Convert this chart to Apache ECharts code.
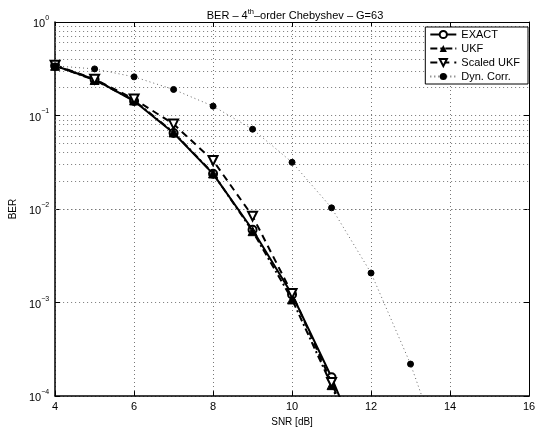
<!DOCTYPE html>
<html>
<head>
<meta charset="utf-8">
<script src="https://cdn.jsdelivr.net/npm/echarts@6/dist/echarts.min.js"></script>
<style>html,body{margin:0;padding:0;background:#fff;}#c{width:541px;height:432px;}</style>
</head>
<body>
<div id="c"></div>
<script>
const snr = [4, 5, 6, 7, 8, 9, 10, 11, 12];
const snrDyn = [4, 5, 6, 7, 8, 9, 10, 11, 12, 13, 14];
const berExact = [0.34, 0.243, 0.143, 0.065, 0.0238, 0.006, 0.00122, 0.000159, 0.000015];
const berUKF = [0.34, 0.24, 0.145, 0.066, 0.024, 0.0058, 0.00108, 0.000131, 0.000012];
const berScaled = [0.345, 0.245, 0.15, 0.081, 0.033, 0.0084, 0.00125, 0.00014, 0.000013];
const berDyn = [0.34, 0.315, 0.259, 0.19, 0.126, 0.0714, 0.0316, 0.0103, 0.00207, 0.00022, 0.000014];
const xTicks = [4, 6, 8, 10, 12, 14, 16];
const minorMultipliers = [2, 3, 4, 5, 6, 7, 8, 9];

const minorGrid = [];
for (let d = -4; d < 0; d++) {
  minorMultipliers.forEach(m => minorGrid.push({ yAxis: m * Math.pow(10, d) }));
}
const pairs = (xs, ys) => ys.map((v, i) => [xs[i], v]);

const FONT = 'Liberation Sans';
const chart = echarts.init(document.getElementById('c'), null, { renderer: 'canvas' });
const gridStyle = { color: '#777', type: [1, 3], width: 1 };

chart.setOption({
  animation: false,
  backgroundColor: '#fff',
  textStyle: { fontFamily: FONT },
  title: {
    text: '{n|BER – 4}{s|th}{n|–order Chebyshev – G=63}',
    left: 290, top: 3, textAlign: 'center',
    textStyle: {
      fontWeight: 'normal',
      rich: {
        n: { fontFamily: FONT, fontSize: 11, fontWeight: 'normal', color: '#000', verticalAlign: 'bottom' },
        s: { fontFamily: FONT, fontSize: 7.5, fontWeight: 'normal', color: '#000', verticalAlign: 'top', padding: [0, 0, 5, 0] }
      }
    }
  },
  grid: { left: 52, right: 12, top: 22, bottom: 33, show: false },
  legend: {
    right: 13, top: 27, orient: 'vertical',
    backgroundColor: '#fff', borderColor: '#000', borderWidth: 1, borderRadius: 0,
    padding: [2, 8, 2, 4], itemGap: 3, itemWidth: 26, itemHeight: 9,
    textStyle: { fontFamily: FONT, fontSize: 11, color: '#000' },
    data: ['EXACT', 'UKF', 'Scaled UKF', 'Dyn. Corr.']
  },
  xAxis: [{
    type: 'value', min: 4, max: 16, interval: 2,
    name: 'SNR [dB]', nameLocation: 'middle', nameGap: 18,
    nameTextStyle: { fontFamily: FONT, fontSize: 10, color: '#000' },
    axisLine: { onZero: false, lineStyle: { color: '#000', width: 1.5 } },
    axisTick: { inside: true, length: 5, lineStyle: { color: '#000' } },
    axisLabel: { fontFamily: FONT, fontSize: 11, color: '#000', margin: 5,
      formatter: v => xTicks.includes(v) ? String(v) : '' },
    splitLine: { show: true, lineStyle: gridStyle }
  }, {
    type: 'value', min: 4, max: 16, interval: 2, position: 'top',
    axisLine: { show: true, lineStyle: { color: '#000', width: 1 } },
    axisTick: { inside: true, length: 5, lineStyle: { color: '#000' } },
    axisLabel: { show: false }, splitLine: { show: false }
  }],
  yAxis: [{
    type: 'log', logBase: 10, min: 1e-4, max: 1, interval: 1,
    name: 'BER', nameLocation: 'middle', nameGap: 30, nameRotate: 90,
    nameTextStyle: { fontFamily: FONT, fontSize: 10, color: '#000' },
    axisLine: { show: true, lineStyle: { color: '#000', width: 1.5 } },
    axisTick: { inside: true, length: 5, lineStyle: { color: '#000' } },
    axisLabel: {
      fontFamily: FONT, margin: 6, color: '#000',
      formatter: v => {
        const e = Math.round(Math.log10(v));
        return '{b|10}{s|' + (e === 0 ? '0' : '−' + (-e)) + '}';
      },
      rich: {
        b: { fontSize: 11, fontFamily: FONT, color: '#000', verticalAlign: 'bottom' },
        s: { fontSize: 7, fontFamily: FONT, color: '#000', verticalAlign: 'top', padding: [0, 0, 8, 0] }
      }
    },
    splitLine: { show: true, lineStyle: gridStyle }
  }, {
    type: 'log', logBase: 10, min: 1e-4, max: 1, interval: 1, position: 'right',
    axisLine: { show: true, lineStyle: { color: '#000', width: 1 } },
    axisTick: { inside: true, length: 5, lineStyle: { color: '#000' } },
    axisLabel: { show: false }, splitLine: { show: false }
  }],
  series: [
    {
      name: 'minor', type: 'line', data: [], z: 1, silent: true,
      markLine: { silent: true, symbol: 'none', label: { show: false }, z: 1,
        lineStyle: gridStyle, data: minorGrid, animation: false }
    },
    {
      name: 'EXACT', type: 'line', data: pairs(snr, berExact), z: 3,
      lineStyle: { color: '#000', width: 2 },
      symbol: 'emptyCircle', symbolSize: 8,
      itemStyle: { color: '#000', borderColor: '#000', borderWidth: 1.5 }
    },
    {
      name: 'UKF', type: 'line', data: pairs(snr, berUKF), z: 4,
      lineStyle: { color: '#000', width: 2, type: [7, 3, 2, 3] },
      symbol: 'triangle', symbolSize: 9,
      itemStyle: { color: '#000', borderColor: '#000' }
    },
    {
      name: 'Scaled UKF', type: 'line', data: pairs(snr, berScaled), z: 5,
      lineStyle: { color: '#000', width: 2, type: [7, 5] },
      symbol: 'emptyTriangle', symbolRotate: 180, symbolSize: 9,
      itemStyle: { color: '#000', borderColor: '#000', borderWidth: 1.5 }
    },
    {
      name: 'Dyn. Corr.', type: 'line', data: pairs(snrDyn, berDyn), z: 6,
      lineStyle: { color: '#666', width: 1, type: [1, 3] },
      symbol: 'circle', symbolSize: 6,
      itemStyle: { color: '#000', borderColor: '#000' }
    }
  ]
});
</script>
</body>
</html>
